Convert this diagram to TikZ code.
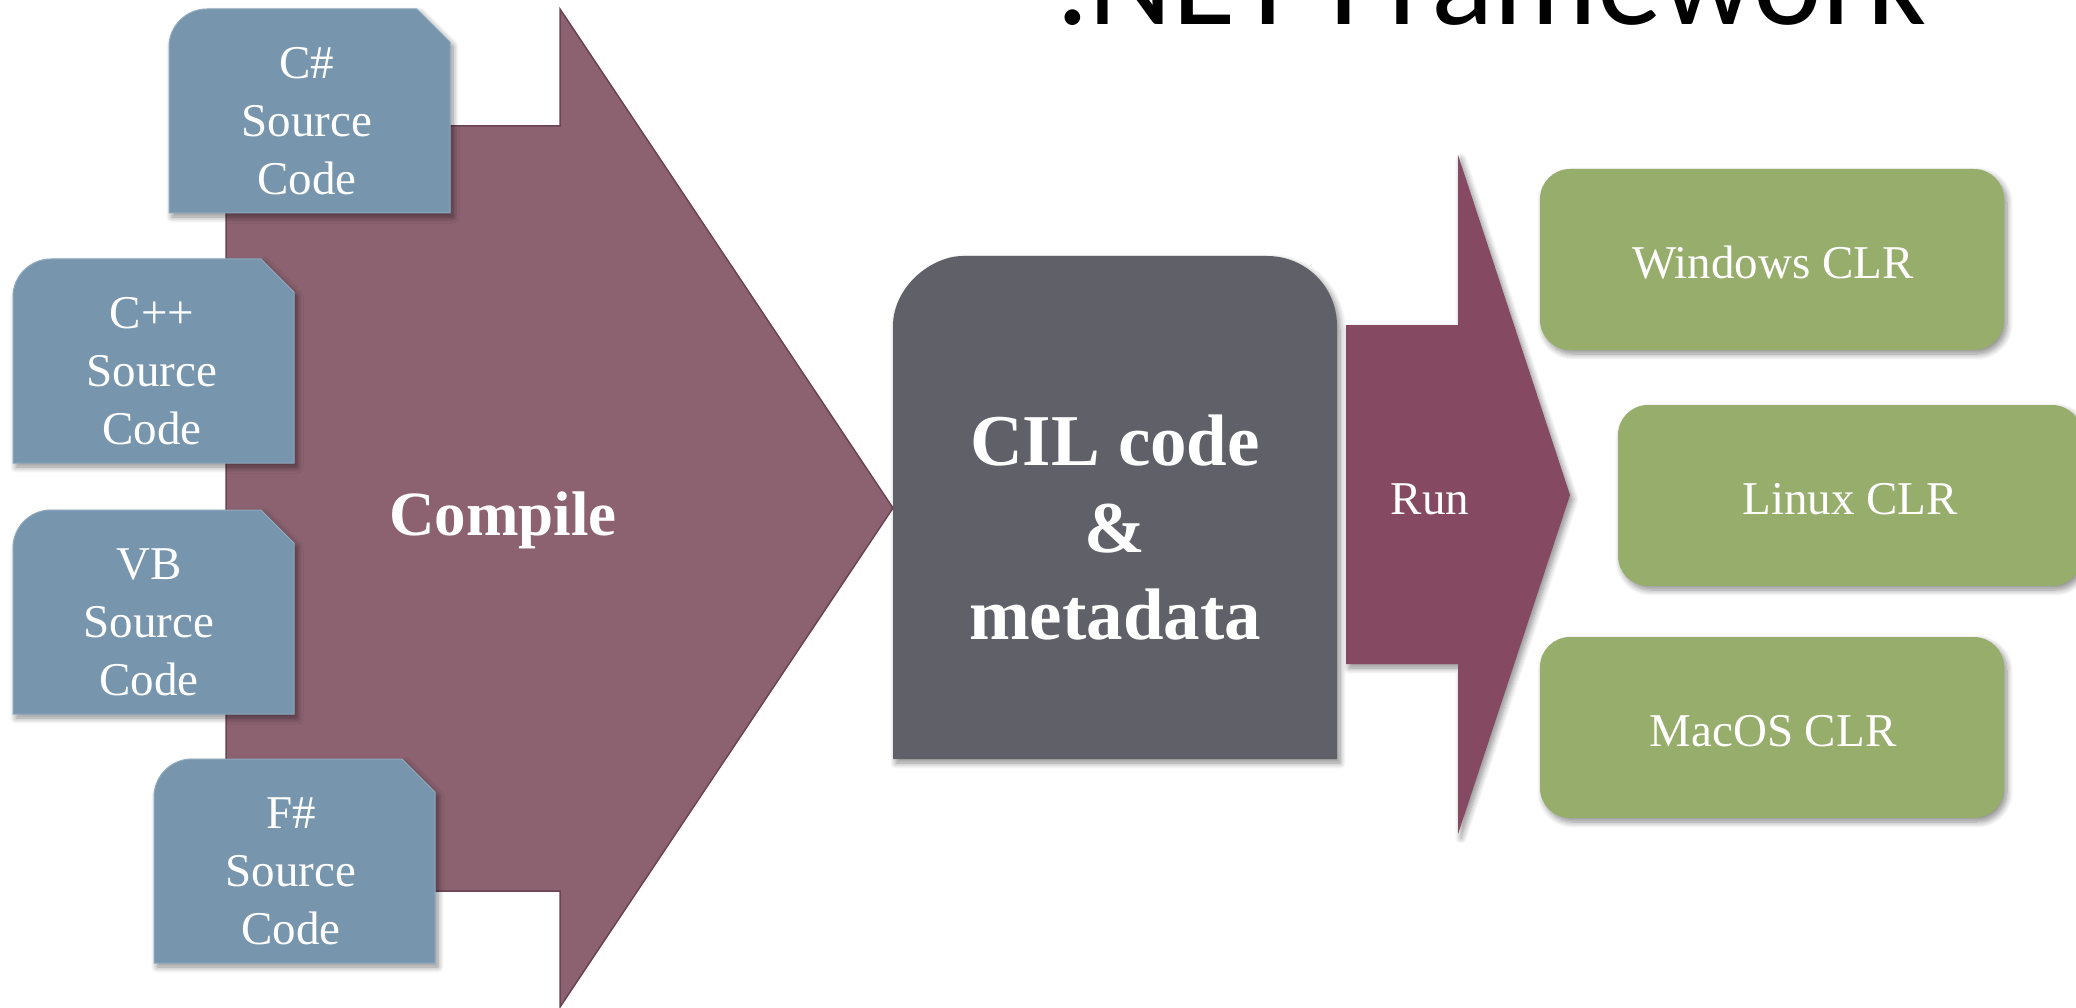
\documentclass[tikz,border=0pt]{standalone}
\usepackage{fontspec}
\setmainfont{Liberation Serif}
\newfontfamily\titlefont{Carlito}
\usetikzlibrary{shadows.blur}
\definecolor{srcblue}{HTML}{7796AD}
\definecolor{srcedge}{HTML}{8FA9BE}
\definecolor{compilefill}{HTML}{8C6270}
\definecolor{compileedge}{HTML}{6A4454}
\definecolor{cilgray}{HTML}{606069}
\definecolor{runfill}{HTML}{854A62}
\definecolor{clrgreen}{HTML}{97AD6C}
\newcommand{\SrcShape}[2]{%
  \path[srcbox] (#1,{#2+204}) -- (#1,{#2+38})
    .. controls (#1,{#2+17}) and ({#1+17},#2) .. ({#1+38},#2)
    -- ({#1+248},#2) -- ({#1+281},{#2+33}) -- ({#1+281},{#2+204}) -- cycle;}
\tikzset{
  softshadow/.style={blur shadow={shadow xshift=3pt, shadow yshift=-4pt,
      shadow blur radius=6pt, shadow blur steps=8, shadow opacity=45}},
  srcbox/.style={fill=srcblue, draw=srcedge, line width=1pt, softshadow},
  srctext/.style={text=white, align=center, inner sep=0pt,
      font=\fontsize{47}{58}\selectfont},
  clrbox/.style={fill=clrgreen, rounded corners=30pt, softshadow},
  clrtext/.style={text=white, inner sep=0pt, anchor=base,
      font=\fontsize{47}{55}\selectfont},
}
\begin{document}
\begin{tikzpicture}[x=1pt,y=-1pt]
\useasboundingbox (0,0) rectangle (2076,1008);

% title (cut off at top)
\node[font=\titlefont\fontsize{130}{130}\selectfont, anchor=base west,
  inner sep=0pt, text=black] (title) at (1056,25) {.NET Framework};

% Compile arrow
\path[fill=compilefill, draw=compileedge, line width=1.5pt]
  (226,126) -- (560,126) -- (560,9) -- (893,508) -- (560,1007)
  -- (560,891) -- (226,891) -- cycle;
\node[text=white, inner sep=0pt, anchor=base,
  font=\bfseries\fontsize{63}{63}\selectfont] (compile) at (503,535) {Compile};

% source code boxes
\SrcShape{169}{9}
\node[srctext] (cs) at (307,121) {C\#\\Source\\Code};
\SrcShape{13}{259}
\node[srctext] (cpp) at (152,371) {C++\\Source\\Code};
\SrcShape{13}{510}
\node[srctext] (vb) at (149,622) {VB\\Source\\Code};
\SrcShape{154}{759}
\node[srctext] (fs) at (291,871) {F\#\\Source\\Code};

% CIL box
\path[fill=cilgray, softshadow]
  (893,759) -- (893,326) .. controls (893,287) and (931,256) .. (963,256)
  -- (1267,256) .. controls (1306,256) and (1337,287) .. (1337,326)
  -- (1337,759) -- cycle;
\node[text=white, align=center, inner sep=0pt,
  font=\bfseries\fontsize{73}{87}\selectfont] (cil) at (1115,528)
  {CIL code\\\&\\metadata};

% Run arrow
\path[fill=runfill, softshadow]
  (1346,325) -- (1458,325) -- (1458,155) -- (1570,495) -- (1458,834)
  -- (1458,664) -- (1346,664) -- cycle;
\node[text=white, inner sep=0pt, anchor=base,
  font=\fontsize{47}{55}\selectfont] (run) at (1430,514) {Run};

% CLR boxes
\path[clrbox] (1540,169) rectangle (2004,350);
\node[clrtext] (win) at (1773,279) {Windows CLR};
\path[clrbox] (1618,405) rectangle (2082,586);
\node[clrtext] (lin) at (1850,514) {Linux CLR};
\path[clrbox] (1540,637) rectangle (2004,818);
\node[clrtext] (mac) at (1773,746) {MacOS CLR};
\end{tikzpicture}
\end{document}
